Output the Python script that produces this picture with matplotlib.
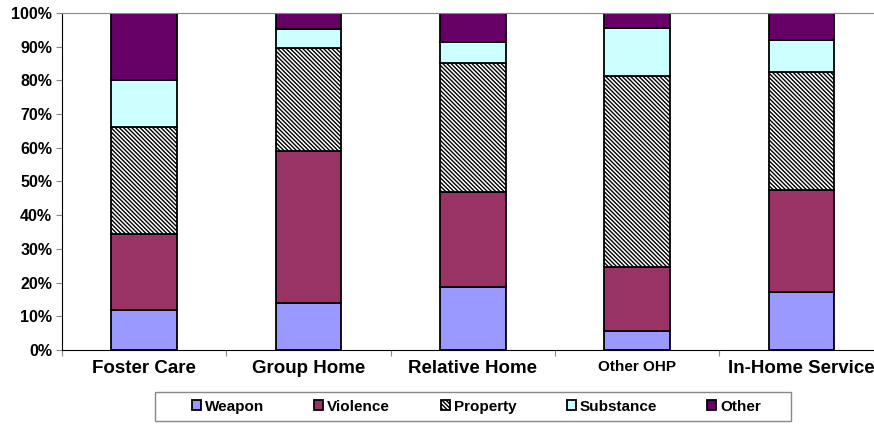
import matplotlib.pyplot as plt
from matplotlib.patches import Rectangle
import numpy as np

plt.rcParams['font.family'] = ['Liberation Sans', 'DejaVu Sans']
plt.rcParams['font.weight'] = 'bold'
plt.rcParams['hatch.linewidth'] = 1.0

categories = ["Foster Care", "Group Home", "Relative Home", "Other OHP", "In-Home Service"]
weapon = [11.9, 13.9, 18.6, 5.7, 17.2]
violence = [22.5, 45.1, 28.4, 19.0, 30.2]
property_ = [31.9, 30.7, 38.2, 56.5, 35.1]
substance = [13.7, 5.6, 6.3, 14.3, 9.6]
other = [20.0, 4.7, 8.5, 4.5, 7.9]

series = [
    ("Weapon", weapon, "#9999FF", None),
    ("Violence", violence, "#993366", None),
    ("Property", property_, "white", "\\" * 8),
    ("Substance", substance, "#CCFFFF", None),
    ("Other", other, "#660066", None),
]

fig = plt.figure(figsize=(8.74, 4.25), dpi=100)
ax = fig.add_axes([0.0709, 0.1765, 0.94, 0.793])

x = np.arange(len(categories))
bottom = np.zeros(len(categories))
for name, vals, color, hatch in series:
    ax.bar(x, vals, 0.4, bottom=bottom, color=color, edgecolor="black",
           linewidth=1.3, hatch=hatch, label=name)
    bottom += np.array(vals)

ax.set_xlim(-0.5, 4.5)
ax.set_ylim(0, 100)
ax.set_yticks(np.arange(0, 101, 10))
ax.set_yticklabels([f"{v}%" for v in range(0, 101, 10)], fontsize=11.5, fontweight="bold")
ax.set_xticks(np.arange(-0.5, 4.6, 1))
ax.set_xticklabels([])
ax.tick_params(axis="x", length=4, color="#888888")
ax.tick_params(axis="y", length=4, color="#888888", pad=3)
for i, c in enumerate(categories):
    fs = 11 if c == "Other OHP" else 13.5
    ax.text(i, -3, c, ha="center", va="top", fontsize=fs, fontweight="bold")

ax.spines["top"].set_color("#888888")
ax.spines["right"].set_visible(False)
ax.spines["left"].set_color("black")
ax.spines["bottom"].set_color("black")

# legend box drawn separately so it can be wider than the entries
fig.patches.append(Rectangle((0.1773, 0.0094), 0.7277, 0.068, transform=fig.transFigure,
                             facecolor="white", edgecolor="#888888", linewidth=1.0))
leg = fig.legend(loc="center", bbox_to_anchor=(0.545, 0.0435), ncol=5,
                 fontsize=11, frameon=False,
                 handlelength=0.6, handleheight=0.6, handletextpad=0.25,
                 columnspacing=3.3)

fig.savefig("out.png", dpi=100)
